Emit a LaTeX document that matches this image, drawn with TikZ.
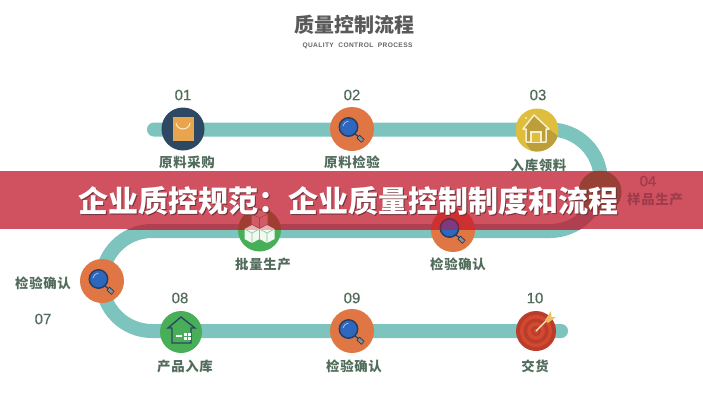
\documentclass[tikz,border=0pt]{standalone}
\usepackage{fontspec}
\setmainfont{Liberation Sans}
\newfontfamily\cjk{Noto Sans CJK SC}
\newfontfamily\cjksp[LetterSpace=5]{Noto Sans CJK SC}
\newfontfamily\numf[FakeBold=0.4]{Liberation Sans}
\newfontfamily\subf[LetterSpace=6]{Liberation Sans}
\definecolor{trk}{RGB}{125,195,190}
\definecolor{lab}{RGB}{82,108,92}
\definecolor{bandc}{RGB}{208,82,97}
\definecolor{bandtrk}{RGB}{176,64,80}
\definecolor{bandlab}{RGB}{158,60,74}
\definecolor{org}{RGB}{224,118,68}
\definecolor{navy}{RGB}{44,72,98}
\definecolor{grn}{RGB}{72,175,88}
\definecolor{yel}{RGB}{222,190,60}
\definecolor{yeld}{RGB}{188,158,58}
\definecolor{cream}{RGB}{248,240,205}
\definecolor{redt}{RGB}{186,60,42}
\definecolor{redl}{RGB}{210,72,48}
\definecolor{lens}{RGB}{46,104,190}
\definecolor{lensd}{RGB}{38,62,100}
\definecolor{bagc}{RGB}{232,165,78}
\definecolor{feather}{RGB}{238,190,100}
\tikzset{
  x=1pt,y=-1pt,
  track/.style={line width=14pt,draw=trk,line cap=round},
  stopdot/.style={circle,inner sep=0pt,minimum size=#1*2pt},
  lbl/.style={font=\cjksp\bfseries\fontsize{13.4}{13.4}\selectfont,text=lab,inner sep=0pt},
  num/.style={font=\numf\fontsize{15}{15}\selectfont,text=lab,inner sep=0pt},
  magnify/.pic={
    \draw[line width=1.2pt,draw=lensd] (3,5) -- (7,8);
    \draw[line width=4.6pt,draw=lensd!80!black] (6,7.5) -- (11,12);
    \draw[line width=3pt,draw=black!45] (6.5,8) -- (10.5,11.6);
    \draw[line width=1.5pt,draw=lensd,fill=lens] (-3.5,-2) circle[radius=9.2];
    \draw[line width=.6pt,draw=white!70!lens] (-9,-3) arc[start angle=190,end angle=265,radius=6];
  },
  lensband/.pic={
    \draw[line width=1.5pt,draw=lensd!70!red,fill={rgb,255:red,125;green,58;blue,125}] (-3.5,-2) circle[radius=9.2];
  },
  house/.pic={
    \draw[cream,line width=1.5pt,line join=round,fill=yeld] (-14,-1) -- (-3,-15) -- (12,-1) -- (9,-1) -- (9,12) -- (-11,12) -- (-11,-1) -- cycle;
    \draw[cream,line width=1.5pt,fill=yel] (-6,12) -- (-6,2) -- (4,2) -- (4,12);
    \fill[cream] (-11,-12) circle[radius=1.1];
  },
  bag/.pic={
    \fill[bagc] (-10.5,-12) rectangle (10.5,12);
    \draw[cream,line width=1pt] (-7,-6) .. controls (-6,2) and (6,2) .. (7,-6);
  },
  home/.pic={
    \draw[navy,line width=1.4pt,line join=miter] (-13,-4) -- (0,-15) -- (14,-4) -- (10,-4) -- (10,11) -- (-9,11) -- (-9,-4) -- cycle;
    \foreach \a in {3,7}\foreach \b in {1,5}{\fill[white] (\a,\b) rectangle +(3,3);}
    \fill[white] (-5,3) rectangle (1,4.5);
  },
  cubes/.pic={
    \fill[white!92!grn] (-15,-1) -- (-7.5,-5) -- (0,-1) -- (7.5,-5) -- (15,-1) -- (15,9) -- (7.5,13) -- (0,9) -- (-7.5,13) -- (-15,9) -- cycle;
    \draw[grn!70!white,line width=.6pt] (-15,-1) -- (-7.5,3) -- (0,-1) -- (7.5,3) -- (15,-1) (-7.5,3) -- (-7.5,13) (7.5,3) -- (7.5,13) (0,-1) -- (0,9);
  },
  cubeband/.pic={
    \fill[white!55!bandc] (-15,-1) -- (-7.5,-5) -- (0,-1) -- (7.5,-5) -- (15,-1) -- (15,3) -- (-15,3) -- cycle;
    \fill[bandc!95!white] (-8,-16) -- (0,-20) -- (8,-16) -- (8,-6) -- (0,-2) -- (-8,-6) -- cycle;
    \draw[redt,line width=.6pt] (-8,-16) -- (0,-12) -- (8,-16) (0,-12) -- (0,-2);
  },
  target/.pic={
    \fill[redl] (0,0) circle[radius=16];
    \fill[redt] (0,0) circle[radius=12.5];
    \fill[redl] (0,0) circle[radius=9];
    \fill[redt] (0,0) circle[radius=5];
    \fill[redl] (0,0) circle[radius=2.5];
    \draw[cream,line width=1.1pt] (0,0) -- (13,-13);
    \fill[feather] (9,-11) -- (15,-20) -- (15.5,-14) -- (20,-14) -- (12,-8) -- cycle;
  }
}
\begin{document}
\begin{tikzpicture}
\useasboundingbox (0,0) rectangle (703,400);
\fill[white] (0,0) rectangle (703,400);
% title
\node[inner sep=0pt,text=black!65,font=\cjk\bfseries\fontsize{20}{20}\selectfont] (title) at (354.5,25) {质量控制流程};
\node[inner sep=0pt,text=black!60,font=\subf\bfseries\fontsize{6.6}{7}\selectfont] (sub) at (357.5,46) {QUALITY\ \ CONTROL\ \ PROCESS};
% coordinates of the track
\coordinate (ts) at (154,129.5);
\coordinate (t1) at (550,129.5);
\coordinate (t2) at (550,231);
\coordinate (t3) at (152,231);
\coordinate (t4) at (152,331);
\coordinate (te) at (561,331);
\draw[track] (ts) -- (t1) arc[start angle=-90,end angle=90,radius=50.75] -- (t3) arc[start angle=-90,end angle=-270,radius=50] -- (te);
% stops
\node[stopdot=21.5,fill=navy] (n1) at (183,129) {};
\node[stopdot=22,fill=org] (n2) at (352,129) {};
\node[stopdot=21.5,fill=yel] (n3) at (537,130) {};
\node[stopdot=21.5,fill=org] (n4) at (600,192) {};
\node[stopdot=21.5,fill=grn] (n5) at (259.5,230) {};
\node[stopdot=22,fill=org] (n6) at (453,230) {};
\node[stopdot=22,fill=org] (n7) at (102,281) {};
\node[stopdot=21,fill=grn] (n8) at (181,332) {};
\node[stopdot=22,fill=org] (n9) at (352,331) {};
\node[stopdot=20,fill=redt] (n10) at (536,331) {};
% icons
\pic at (n1) {bag};
\pic at (n2) {magnify};
\begin{scope}
\clip (n3) circle[radius=21.5];
\fill[yeld] (549,129) -- (575,150) -- (545,170) -- (525,142) -- cycle;
\end{scope}
\pic at (n3) {house};
\pic at (n5) {cubes};
\pic at (n6) {magnify};
\pic at (n7) {magnify};
\pic at (n8) {home};
\pic at (n9) {magnify};
\pic at (n10) {target};
% labels
\node[num] (c1) at (183,95) {01};
\node[num] (c2) at (352,95) {02};
\node[num] (c3) at (538,95) {03};
\node[num] (c7) at (43,319) {07};
\node[num] (c8) at (180,298) {08};
\node[num] (c9) at (352,298) {09};
\node[num] (c10) at (535,298) {10};
\node[lbl] (l1) at (187,162) {原料采购};
\node[lbl] (l2) at (352,162) {原料检验};
\node[lbl] (l3) at (538.5,165) {入库领料};
\node[lbl] (l5) at (263,264.5) {批量生产};
\node[lbl] (l6) at (458,264.5) {检验确认};
\node[lbl] (l7) at (43,283) {检验确认};
\node[lbl] (l8) at (185,366.5) {产品入库};
\node[lbl] (l9) at (354,366.5) {检验确认};
\node[lbl] (l10) at (535,366) {交货};
% band
\fill[bandc] (0,171) rectangle (703,229);
\begin{scope}
\clip (0,171) rectangle (703,229);
\draw[line width=14pt,draw=bandtrk] (t1) arc[start angle=-90,end angle=90,radius=50.75] -- (t3) arc[start angle=-90,end angle=-130,radius=50];
\fill[fill={rgb,255:red,152;green,64;blue,54}] (n4) circle[radius=21.5];
\fill[fill={rgb,255:red,160;green,62;blue,50}] (n5) circle[radius=21.5];
\fill[fill={rgb,255:red,205;green,48;blue,48}] (n6) circle[radius=22];
\pic at (n6) {lensband};
\pic at (n5) {cubeband};
\end{scope}
\node[lbl,text=bandlab] (l4) at (655,199.5) {样品生产};
\node[num,text=bandlab] (c4) at (648,181) {04};
\node[inner sep=0pt,text=black!45!bandc,font=\cjk\bfseries\fontsize{30}{30}\selectfont] (shade) at (349.5,201.5) {企业质控规范：企业质量控制制度和流程};
\node[inner sep=0pt,text=white,font=\cjk\bfseries\fontsize{30}{30}\selectfont] (headline) at (348.5,200.5) {企业质控规范：企业质量控制制度和流程};
\end{tikzpicture}
\end{document}
